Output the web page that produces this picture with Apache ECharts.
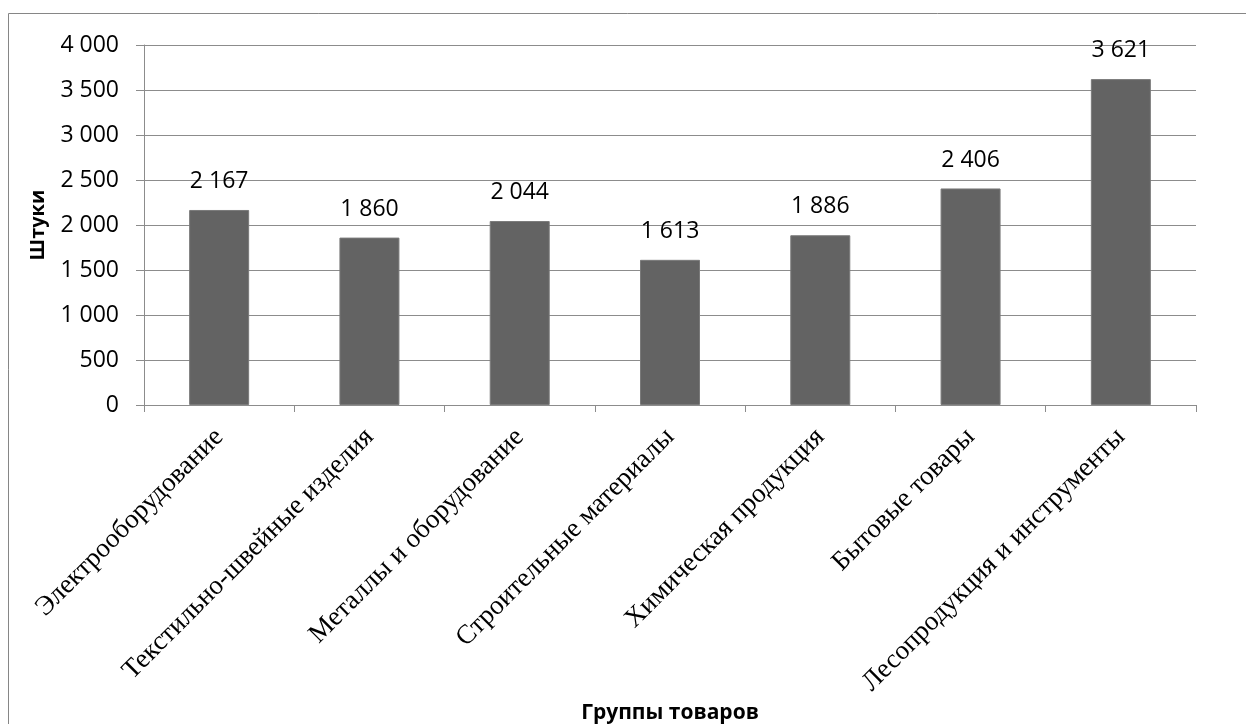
<!DOCTYPE html>
<html>
<head>
<meta charset="utf-8">
<script src="https://cdn.jsdelivr.net/npm/echarts@6/dist/echarts.min.js"></script>
<style>
  html, body { margin: 0; padding: 0; background: #fff; }
  #chart { width: 1246px; height: 724px; }
</style>
</head>
<body>
<div id="chart"></div>
<script>
// Product groups and quantities (pieces)
const categories = [
  'Электрооборудование',
  'Текстильно-швейные изделия',
  'Металлы и оборудование',
  'Строительные материалы',
  'Химическая продукция',
  'Бытовые товары',
  'Лесопродукция и инструменты'
];
const values = [2167, 1860, 2044, 1613, 1886, 2406, 3621];
const yAxisTitle = 'Штуки';
const xAxisTitle = 'Группы товаров';

const sansFont = '"Open Sans", "Noto Sans", sans-serif';
const serifFont = '"Liberation Serif", "DejaVu Serif", serif';
const lineGray = '#8c8c8c';

// "4 000" style thousands grouping
function fmt(v) {
  return String(v).replace(/\B(?=(\d{3})+(?!\d))/g, ' ');
}

const chart = echarts.init(document.getElementById('chart'), null, { renderer: 'canvas' });

chart.setOption({
  animation: false,
  backgroundColor: '#ffffff',
  graphic: [
    {
      type: 'rect',
      shape: { x: 8.5, y: 13.5, width: 1300, height: 800 },
      style: { fill: 'none', stroke: '#868686', lineWidth: 1 },
      silent: true,
      z: -10
    },
    {
      type: 'text',
      x: 38, y: 225,
      rotation: Math.PI / 2,
      style: {
        text: yAxisTitle,
        font: 'bold 20px ' + sansFont,
        fill: '#000',
        align: 'center',
        verticalAlign: 'middle'
      }
    },
    {
      type: 'text',
      x: 670, y: 713,
      style: {
        text: xAxisTitle,
        font: 'bold 21px ' + sansFont,
        fill: '#000',
        align: 'center',
        verticalAlign: 'middle'
      }
    }
  ],
  grid: { left: 144, right: 50, top: 45, bottom: 319, containLabel: false },
  xAxis: {
    type: 'category',
    data: categories,
    axisLine: { show: true, lineStyle: { color: lineGray, width: 1 } },
    axisTick: { show: true, alignWithLabel: false, length: 7, lineStyle: { color: lineGray } },
    axisLabel: {
      interval: 0,
      rotate: 45,
      margin: 28,
      color: '#000',
      fontFamily: serifFont,
      fontSize: 27
    },
    splitLine: { show: false }
  },
  yAxis: {
    type: 'value',
    min: 0,
    max: 4000,
    interval: 500,
    axisLine: { show: true, lineStyle: { color: lineGray, width: 1 } },
    axisTick: { show: true, length: 8, lineStyle: { color: lineGray } },
    axisLabel: {
      color: '#000',
      fontFamily: sansFont,
      fontSize: 23,
      margin: 25,
      formatter: fmt
    },
    splitLine: { show: true, lineStyle: { color: lineGray, width: 1 } }
  },
  series: [
    {
      type: 'bar',
      data: values,
      barWidth: 60,
      itemStyle: { color: '#636363', borderColor: '#7a7a7a', borderWidth: 1 },
      label: {
        show: true,
        position: 'top',
        distance: 17,
        color: '#000',
        fontFamily: sansFont,
        fontSize: 23,
        formatter: p => fmt(p.value)
      }
    }
  ]
});
</script>
</body>
</html>
